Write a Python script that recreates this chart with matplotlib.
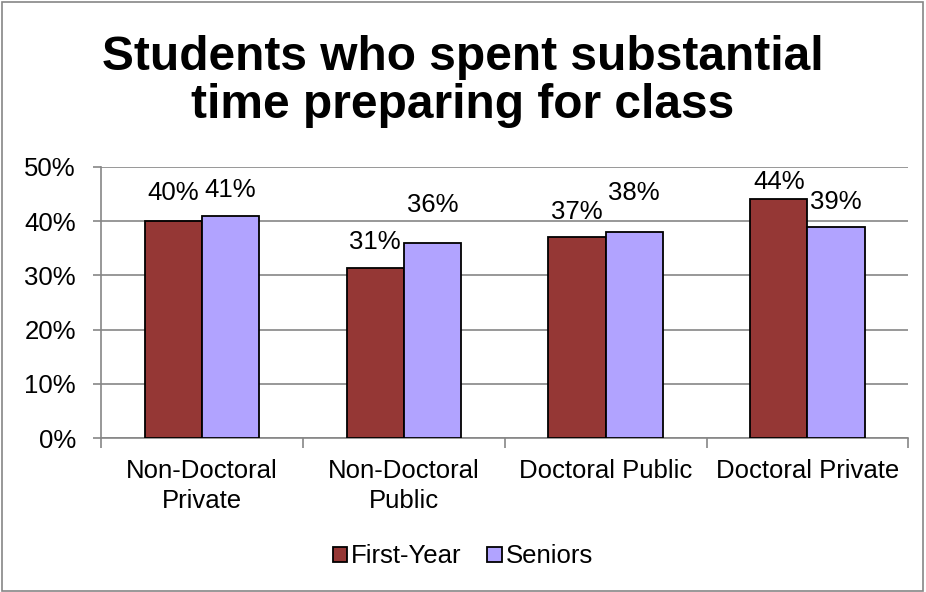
import matplotlib.pyplot as plt
import numpy as np
from matplotlib.patches import Rectangle

plt.rcParams['font.family'] = ['Liberation Sans', 'DejaVu Sans']

categories = ['Non-Doctoral\nPrivate', 'Non-Doctoral\nPublic', 'Doctoral Public', 'Doctoral Private']
first_year = [0.40, 0.314, 0.37, 0.44]
seniors = [0.41, 0.36, 0.38, 0.39]
first_labels = ['40%', '31%', '37%', '44%']
senior_labels = ['41%', '36%', '38%', '39%']
yticks = [0, 0.1, 0.2, 0.3, 0.4, 0.5]
ytick_labels = ['0%', '10%', '20%', '30%', '40%', '50%']

# label offsets above bar top, in pixels (Excel placed them unevenly)
first_off = [28, 26, 25, 17]
senior_off = [26, 38, 39, 25]

c_first = '#953735'
c_sen = '#B1A3FF'
grey = '#868686'
fs = 18.5

fig = plt.figure(figsize=(9.26, 5.92), dpi=100)
fig.patches.append(Rectangle((0.002, 0.002), 0.995, 0.995, transform=fig.transFigure,
                             fill=False, edgecolor=grey, linewidth=1.2))

ax = fig.add_axes([0.109, 0.260, 0.872, 0.458])
x = np.arange(len(categories))
w = 0.283
b1 = ax.bar(x - w / 2, first_year, w, color=c_first, edgecolor='black', linewidth=1.3,
            label='First-Year', zorder=3)
b2 = ax.bar(x + w / 2, seniors, w, color=c_sen, edgecolor='black', linewidth=1.3,
            label='Seniors', zorder=3)

for bar, lab, off in zip(b1, first_labels, first_off):
    ax.annotate(lab, (bar.get_x() + bar.get_width() / 2, bar.get_height()),
                xytext=(0, off * 0.72), textcoords='offset points',
                ha='center', va='center', fontsize=fs)
for bar, lab, off in zip(b2, senior_labels, senior_off):
    ax.annotate(lab, (bar.get_x() + bar.get_width() / 2, bar.get_height()),
                xytext=(0, off * 0.72), textcoords='offset points',
                ha='center', va='center', fontsize=fs)

ax.set_xlim(-0.5, len(categories) - 0.5)
ax.set_ylim(0, 0.5)
ax.set_yticks(yticks)
ax.set_yticklabels(ytick_labels, fontsize=fs)
ax.yaxis.grid(True, color=grey, linewidth=1.2, zorder=0)
ax.set_axisbelow(True)

ax.set_xticks(x)
ax.set_xticklabels(categories, fontsize=fs, linespacing=1.3)
ax.tick_params(axis='x', length=0, pad=15)
ax.set_xticks(np.arange(-0.5, len(categories)), minor=True)
ax.tick_params(axis='x', which='minor', length=7, color=grey, width=1.2)
ax.tick_params(axis='y', length=6, color=grey, width=1.2, pad=12)

for s in ['top', 'right']:
    ax.spines[s].set_visible(False)
for s in ['left', 'bottom']:
    ax.spines[s].set_color(grey)
    ax.spines[s].set_linewidth(1.2)

fig.text(0.5, 0.862, 'Students who spent substantial\ntime preparing for class',
         ha='center', va='center', fontsize=34.5, fontweight='bold', linespacing=1.1)

fig.legend(handles=[b1, b2], loc='center', bbox_to_anchor=(0.5, 0.06), ncol=2,
           frameon=False, fontsize=fs, handlelength=0.55, handleheight=0.55,
           handletextpad=0.15, columnspacing=1.0)

fig.savefig('out.png', dpi=100)
